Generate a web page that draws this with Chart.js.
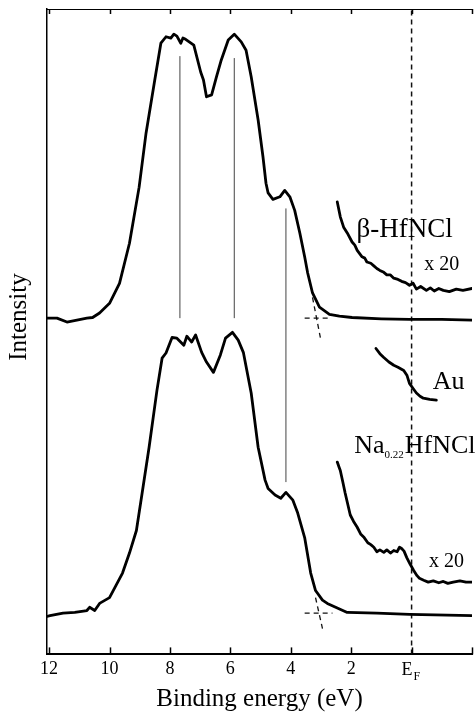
<!DOCTYPE html>
<html><head><meta charset="utf-8">
<script src="https://cdn.jsdelivr.net/npm/chart.js@4/dist/chart.umd.min.js"></script>
<style>html,body{margin:0;padding:0;background:#fff}</style>
</head><body>
<canvas id="c" width="476" height="715"></canvas>
<script>
// ---- data (binding energy in eV, intensity in arbitrary units 0..100) ----
const betaE = [12.07,11.97,11.74,11.41,11.08,10.75,10.56,10.33,10.0,9.67,9.34,9.02,8.79,8.52,8.30,8.13,7.97,7.87,7.77,7.64,7.57,7.48,7.21,6.98,6.89,6.79,6.62,6.46,6.30,6.07,5.87,5.64,5.48,5.31,5.08,4.92,4.82,4.75,4.59,4.36,4.20,4.03,3.87,3.70,3.54,3.44,3.28,3.05,2.72,2.39,1.97,1.0,0.07,-1.0,-2.0];
const betaI = [52.1,52.1,52.1,51.5,51.8,52.1,52.2,52.9,54.4,57.5,63.7,72.4,80.8,88.5,94.7,95.7,95.5,96.1,95.8,94.7,95.5,95.3,94.4,90.2,89.0,86.4,86.7,89.5,92.1,95.2,96.1,94.9,93.6,89.5,82.8,77.1,73.0,71.5,70.5,70.9,71.9,70.9,68.8,65.3,61.6,59.1,56.0,53.8,52.7,52.4,52.2,52.0,51.9,51.9,51.8];
const betaX20E = [2.46,2.36,2.25,2.13,1.97,1.88,1.80,1.64,1.55,1.48,1.35,1.25,1.15,1.05,0.92,0.82,0.70,0.59,0.45,0.33,0.20,0.07,-0.05,-0.16,-0.30,-0.49,-0.62,-0.75,-0.90,-1.05,-1.25,-1.48,-1.70,-2.0];
const betaX20I = [70.1,67.8,66.2,65.3,63.9,63.4,62.6,61.6,61.4,60.8,60.6,60.2,59.8,59.5,59.2,58.8,58.8,58.3,58.1,57.8,57.6,57.2,57.5,56.6,57.0,56.4,56.8,56.3,56.7,56.4,56.2,56.6,56.4,56.7];
const auE = [1.18,1.05,0.92,0.75,0.59,0.45,0.26,0.15,0.07,-0.05,-0.16,-0.28,-0.39,-0.60,-0.82];
const auI = [47.4,46.6,46.0,45.3,44.8,44.5,44.0,43.2,42.0,41.2,40.5,40.0,39.7,39.5,39.4];
const naE = [12.07,11.97,11.54,11.15,10.75,10.66,10.49,10.33,10.0,9.57,9.34,9.11,8.92,8.69,8.43,8.26,8.13,7.93,7.77,7.54,7.44,7.28,7.15,6.95,6.79,6.56,6.33,6.16,5.93,5.74,5.57,5.31,5.08,4.85,4.75,4.52,4.33,4.16,3.93,3.77,3.54,3.34,3.18,2.95,2.79,2.13,1.15,0.07,-2.0];
const naI = [5.9,6.0,6.4,6.5,6.8,7.3,6.8,7.9,8.8,12.6,15.7,19.2,25.0,32.1,40.9,45.9,46.7,49.1,49.0,47.9,49.3,48.4,49.5,46.8,45.3,43.7,46.4,49.0,49.9,48.7,46.8,40.5,32.1,27.0,25.7,24.7,24.2,25.1,23.9,21.9,18.1,12.6,9.9,8.4,7.9,6.5,6.4,6.2,6.0];
const naX20E = [2.46,2.40,2.36,2.28,2.20,2.03,1.92,1.80,1.68,1.57,1.45,1.35,1.25,1.15,1.05,0.92,0.82,0.70,0.59,0.48,0.40,0.33,0.25,0.16,0.05,-0.07,-0.18,-0.26,-0.40,-0.55,-0.72,-0.90,-1.05,-1.20,-1.38,-1.60,-1.80,-2.0];
const naX20I = [29.8,29.0,28.5,26.8,25.0,21.6,20.6,19.7,18.6,18.1,17.3,17.0,16.6,15.9,16.2,15.8,16.2,15.7,16.1,15.9,16.6,16.4,16.0,15.0,14.0,13.0,12.2,11.8,11.5,11.2,11.4,11.1,11.3,11.0,11.2,11.4,11.2,11.2];
// peak guide lines
const guideE = [7.67, 5.87, 4.16];
const guideTop = [92.7, 92.4, 69.1];
const guideBottom = [52.1, 52.1, 26.7];
// onset extrapolation (dashed)
const extrapUpHE = [3.54, 2.72], extrapUpHI = [52.1, 52.1];
const extrapUpDE = [3.28, 3.02], extrapUpDI = [55.3, 49.1];
const extrapLoHE = [3.54, 2.62], extrapLoHI = [6.4, 6.4];
const extrapLoDE = [3.18, 2.95], extrapLoDI = [8.8, 4.0];
// Fermi level
const efE = [0, 0], efI = [0, 100];
// ticks
const tickValues = [12, 10, 8, 6, 4, 2, 0, -2];
const tickLabels = ['12', '10', '8', '6', '4', '2', '', ''];

const SERIF = '"Liberation Serif", "Times New Roman", serif';
const pts = (xs, ys) => xs.map((x, i) => ({x, y: ys[i]}));
const curve = (xs, ys) => ({data: pts(xs, ys), borderColor: '#000', borderWidth: 2.8, pointRadius: 0, tension: 0, borderJoinStyle: 'round', borderCapStyle: 'round'});
const thin = (xs, ys) => ({data: pts(xs, ys), borderColor: '#444', borderWidth: 1, pointRadius: 0, tension: 0});
const dashed = (xs, ys, w) => ({data: pts(xs, ys), borderColor: '#111', borderWidth: w || 1.3, borderDash: [5, 4], pointRadius: 0, tension: 0});

const datasets = [
  curve(betaE, betaI), curve(betaX20E, betaX20I), curve(auE, auI),
  curve(naE, naI), curve(naX20E, naX20I),
  dashed(efE, efI, 1.5),
  dashed(extrapUpHE, extrapUpHI), dashed(extrapUpDE, extrapUpDI),
  dashed(extrapLoHE, extrapLoHI), dashed(extrapLoDE, extrapLoDI)
];
guideE.forEach((e, i) => datasets.push(thin([e, e], [guideBottom[i], guideTop[i]])));

const annot = {
  id: 'annot',
  afterDraw(chart) {
    const {ctx, chartArea: a, scales: {x, y}} = chart;
    ctx.save();
    ctx.strokeStyle = '#000';
    // top border
    ctx.lineWidth = 1;
    ctx.beginPath(); ctx.moveTo(a.left, a.top + 0.5); ctx.lineTo(a.right, a.top + 0.5); ctx.stroke();
    // inward ticks
    ctx.lineWidth = 1.5;
    tickValues.forEach(v => {
      const px = Math.round(x.getPixelForValue(v)) + 0.5;
      ctx.beginPath(); ctx.moveTo(px, a.bottom); ctx.lineTo(px, a.bottom - 7); ctx.stroke();
      ctx.beginPath(); ctx.moveTo(px, a.top); ctx.lineTo(px, a.top + 5); ctx.stroke();
    });
    ctx.fillStyle = '#000';
    ctx.textBaseline = 'alphabetic';
    ctx.textAlign = 'left';
    // E_F tick label
    const ef = x.getPixelForValue(0);
    ctx.font = '18px ' + SERIF;
    ctx.fillText('E', ef - 10, 675);
    ctx.font = '12px ' + SERIF;
    ctx.fillText('F', ef + 2, 680);
    // y-axis title
    ctx.save();
    ctx.translate(26, 317);
    ctx.rotate(-Math.PI / 2);
    ctx.textAlign = 'center';
    ctx.font = '25px ' + SERIF;
    ctx.fillText('Intensity', 0, 0);
    ctx.restore();
    // curve labels
    const text = (s, e, i, size) => { ctx.font = size + 'px ' + SERIF; ctx.fillText(s, x.getPixelForValue(e), y.getPixelForValue(i)); };
    text('\u03B2-HfNCl', 1.82, 64.7, 27);
    text('x 20', -0.42, 59.5, 20);
    text('Au', -0.7, 41.1, 26);
    text('x 20', -0.58, 13.6, 20);
    ctx.font = '26px ' + SERIF;
    let px = x.getPixelForValue(1.9), py = y.getPixelForValue(31.2);
    ctx.fillText('Na', px, py); px += ctx.measureText('Na').width;
    ctx.font = '11px ' + SERIF;
    ctx.fillText('0.22', px, py + 5); px += ctx.measureText('0.22').width + 1;
    ctx.font = '26px ' + SERIF;
    ctx.fillText('HfNCl', px, py);
    ctx.restore();
  }
};

new Chart(document.getElementById('c'), {
  type: 'line',
  data: {datasets},
  options: {
    responsive: false, animation: false, devicePixelRatio: 1,
    layout: {padding: {left: 0, right: 0, top: 9, bottom: 1}},
    plugins: {legend: {display: false}, tooltip: {enabled: false}},
    scales: {
      x: {
        type: 'linear', reverse: true, min: -2, max: 12.07,
        afterBuildTicks: s => { s.ticks = tickValues.map(v => ({value: v})); },
        ticks: {autoSkip: false, maxRotation: 0, padding: 4, color: '#000',
          font: {family: SERIF, size: 18},
          callback: (v, i) => tickLabels[i]},
        grid: {display: true, drawOnChartArea: false, drawTicks: false},
        border: {display: true, color: '#000', width: 2},
        title: {display: true, text: 'Binding energy (eV)', color: '#000',
          font: {family: SERIF, size: 25}, padding: {top: 0, bottom: 0}}
      },
      y: {
        min: 0, max: 100,
        afterFit: s => { s.width = 47; },
        ticks: {display: false},
        grid: {display: true, drawOnChartArea: false, drawTicks: false},
        border: {display: true, color: '#000', width: 1.5},
        title: {display: false}
      }
    }
  },
  plugins: [annot]
});
</script>
</body></html>
